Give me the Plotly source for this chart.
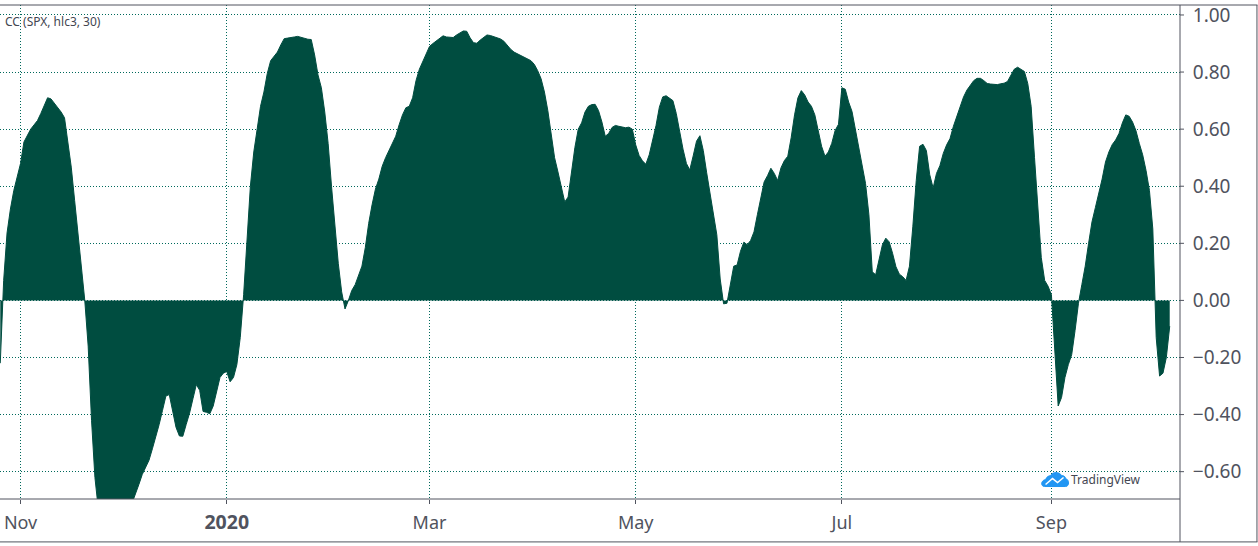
import pandas as pd
import plotly.graph_objects as go

START_DATE = "2019-11-01"
# Days since START_DATE, one bar per calendar day
day_offsets = list(range(-6, 341))
cc_values = [
 -.22,.07,.236,.32,.385,.435,
 .48,.555,.58,.60,.615,.63,.655,.685,.71,.706,.692,.677,.66,.64,.55,.467,.35,.236,.118,0,
 -.16,-.42,-.62,-.73,-.76,-.78,-.79,-.80,-.80,-.79,-.78,-.76,-.74,-.71,-.68,-.645,-.61,-.585,-.56,-.52,
 -.48,-.435,-.385,-.335,-.33,-.39,-.445,-.475,-.476,-.435,-.395,-.345,-.295,-.315,-.389,-.392,-.397,-.37,-.32,-.27,
 -.255,-.249,-.285,-.27,-.225,-.13,.02,.21,.40,.52,.61,.68,.73,.795,.84,.855,.87,.895,.917,.919,.92,.923,
 .925,.921,.917,.915,.914,.86,.79,.745,.66,.55,.40,.27,.13,.03,-.03,0,.035,.055,.09,.12,.185,.27,.335,.39,
 .425,.47,.50,.525,.555,.575,.615,.65,.675,.68,.71,.77,
 .81,.835,.865,.89,.90,.91,.918,.927,.923,.921,.921,.93,.938,.944,.943,.92,.903,.901,.912,.922,.93,.928,.924,.92,.916,
 .908,.893,.88,.87,.864,.858,.853,.848,.84,.827,.805,.777,.73,.665,.575,.50,.45,.40,.345,.362,.45,.535,.60,.622,.66,
 .68,.686,.687,.665,.625,.575,.585,.606,.613,.61,.607,.605,.607,.60,.545,.508,.489,.477,.51,.558,.612,.677,.713,.717,.71,
 .70,.655,.59,.53,.48,.457,.506,.558,.577,.525,.447,.375,.31,.23,.075,-.012,-.01,.05,.12,.124,.172,.204,.195,.21,.24,
 .30,.362,.415,.437,.463,.445,.42,.465,.49,.505,.57,.65,.71,.735,.72,.695,.68,.65,.60,.54,.505,.52,.55,.595,.617,
 .745,.74,.695,.662,.60,.53,.48,.41,.30,.10,.09,.14,.195,.218,.205,.165,.118,.092,.083,.07,.12,.26,.42,.54,.547,
 .525,.44,.394,.445,.472,.515,.545,.567,.61,.645,.68,.713,.737,.755,.77,.778,.778,.77,.76,.758,.757,.756,.759,.761,.767,
 .79,.81,.817,.81,.802,.76,.68,.50,.32,.15,.07,.05,.02,-.16,-.37,-.34,-.27,-.225,-.19,-.105,-.01,.055,.12,.20,.275,
 .325,.37,.425,.485,.52,.546,.562,.585,.622,.65,.645,.625,.595,.55,.51,.455,.385,.25,-.13,-.265,-.255,-.20,-.09,-.06,
]
dates = pd.Timestamp(START_DATE) + pd.to_timedelta(day_offsets, unit="D")

x_tick_dates = ["2019-11-01", "2020-01-01", "2020-03-01", "2020-05-01", "2020-07-01", "2020-09-01"]
x_tick_labels = ["Nov", '<b><span style="font-size:19.5px">2020</span></b>', "Mar", "May", "Jul", "Sep"]
y_ticks = [-0.6, -0.4, -0.2, 0, 0.2, 0.4, 0.6, 0.8, 1.0]
y_tick_labels = ["−0.60", "−0.40", "−0.20", "0.00", "0.20", "0.40", "0.60", "0.80", "1.00"]

W, H = 1258, 546
L, R, T, B = 0, 1180.5, 4.5, 499.5
AX = "#50535e"
GRID = "#00695c"
FILL = "#004d40"
FONT = "Noto Sans"

def px(x):
    return (x - L) / (R - L)
def py(y):
    return (B - y) / (B - T)

def line(x0, y0, x1, y1):
    return dict(type="line", xref="paper", yref="paper", x0=px(x0), y0=py(y0), x1=px(x1), y1=py(y1),
                line=dict(color=AX, width=1), layer="above")

def P(a, b):
    return f"{px(a):.5f},{py(b):.5f}"

cloud = (f"M{P(1045,487)} C{P(1041,487)} {P(1041,481)} {P(1046,480)} "
         f"C{P(1047,477)} {P(1050,476)} {P(1051,476)} C{P(1053,472)} {P(1060,472)} {P(1062,476)} "
         f"C{P(1065,476)} {P(1066,478)} {P(1066,479)} C{P(1070,480)} {P(1070,487)} {P(1066,487)} Z")
tick = f"M{P(1046,485)} L{P(1053,479)} L{P(1058,483)} L{P(1064,478)}"

# short right-hand tick marks; the axis' own (transparent) ticks only set the label offset
y_tick_marks = [
    dict(type="line", xref="paper", yref="y", x0=px(1180.5), x1=px(1184.5), y0=v, y1=v,
         line=dict(color=AX, width=1), layer="above")
    for v in y_ticks
]

fig = go.Figure(go.Scatter(
    x=dates, y=cc_values, mode="lines", fill="tozeroy",
    line=dict(color=FILL, width=1), fillcolor=FILL, hoverinfo="skip",
))

fig.update_layout(
    width=W, height=H, paper_bgcolor="white", plot_bgcolor="white", showlegend=False,
    margin=dict(l=L, r=W - R, t=T, b=H - B, pad=0), autosize=False,
    font=dict(family=FONT, color=AX),
    xaxis=dict(
        type="date", range=["2019-10-25 22:00", "2020-10-09 01:00"],
        tickmode="array", tickvals=x_tick_dates, ticktext=x_tick_labels,
        ticks="outside", ticklen=4, tickcolor=AX, tickwidth=1,
        showline=False, zeroline=False,
        showgrid=True, gridcolor=GRID, gridwidth=1, griddash="1px,2px",
        tickfont=dict(size=18, family=FONT, color=AX),
        ticklabelstandoff=3,
    ),
    yaxis=dict(
        side="right", range=[(300.5 - B) / 286, (300.5 - T) / 286],
        tickmode="array", tickvals=y_ticks, ticktext=y_tick_labels,
        ticks="outside", ticklen=8, tickcolor="rgba(0,0,0,0)", tickwidth=1,
        showline=False, zeroline=False,
        showgrid=True, gridcolor=GRID, gridwidth=1, griddash="1px,2px",
        tickfont=dict(size=19, family=FONT, color=AX),
    ),
    shapes=[
        line(0, 4.5, 1258, 4.5),
        line(0, 499.5, 1180.5, 499.5),
        line(0, 542.5, 1258, 542.5),
        line(1180.5, 4.5, 1180.5, 542.5),
        line(1257.5, 4.5, 1257.5, 542.5),
        dict(type="path", xref="paper", yref="paper", path=cloud, fillcolor="#2196f3", line=dict(color="#2196f3", width=1), layer="above"),
        dict(type="path", xref="paper", yref="paper", path=tick, line=dict(color="white", width=1.5), layer="above"),
    ] + y_tick_marks,
    annotations=[
        dict(text="CC (SPX, hlc3, 30)", xref="paper", yref="paper", x=px(3), y=py(21.5), xanchor="left", yanchor="middle",
             showarrow=False, font=dict(size=12, color="#434651", family=FONT)),
        dict(text="TradingView", xref="paper", yref="paper", x=px(1069), y=py(480), xanchor="left", yanchor="middle",
             showarrow=False, font=dict(size=12, color="#434651", family=FONT)),
    ],
)

fig.write_html("out.html", config=dict(displayModeBar=False), post_script="document.body.style.margin='0';")
